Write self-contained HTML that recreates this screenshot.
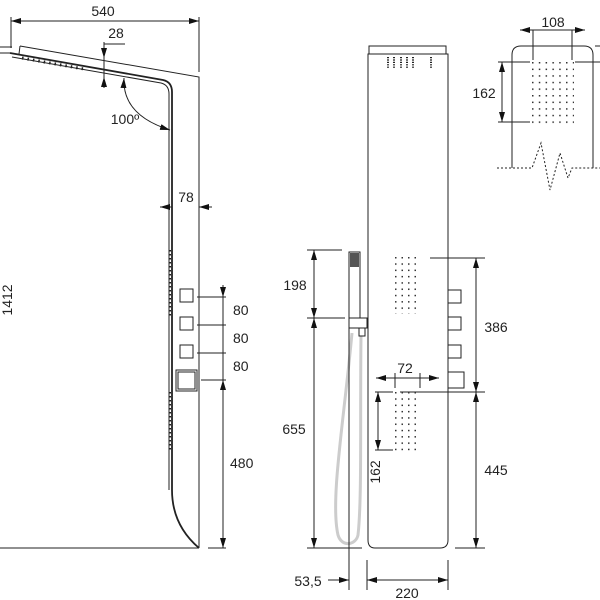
<!DOCTYPE html>
<html><head><meta charset="utf-8"><style>
html,body{margin:0;padding:0;background:#fff}
svg{display:block}
text{font-family:"Liberation Sans Narrow","Liberation Sans",sans-serif;font-size:14px;fill:#222}
</style></head><body>
<svg width="600" height="600" viewBox="0 0 600 600" xmlns="http://www.w3.org/2000/svg">
<defs>
<marker id="a" viewBox="0 0 10 6" refX="10" refY="3" markerWidth="10" markerHeight="6" orient="auto-start-reverse" markerUnits="userSpaceOnUse"><path d="M0,0L10,3L0,6z" fill="#111"/></marker>
<pattern id="dg" x="395" y="257" width="6.5" height="6.3" patternUnits="userSpaceOnUse"><rect x="0" y="0" width="1.5" height="1.5" fill="#333"/></pattern>
<pattern id="dg2" x="395" y="392" width="6.5" height="6.3" patternUnits="userSpaceOnUse"><rect x="0" y="0" width="1.5" height="1.5" fill="#333"/></pattern>
<pattern id="dg3" x="532" y="62" width="6.8" height="6.6" patternUnits="userSpaceOnUse"><rect x="0" y="0" width="1.5" height="1.5" fill="#333"/></pattern>
</defs>
<g stroke="#222" stroke-width="1" fill="none">
<!-- LEFT VIEW -->
<line x1="11" y1="17" x2="11" y2="48"/>
<line x1="199" y1="17" x2="199" y2="72"/>
<line x1="11" y1="21" x2="199" y2="21" marker-start="url(#a)" marker-end="url(#a)"/>
<line x1="0" y1="47" x2="12" y2="47"/><line x1="0" y1="53" x2="10" y2="53"/>
<path d="M20,46 L199,77 L199,548"/>
<path d="M20,46 L19,54"/>
<path d="M10,53 L163,80 Q172,82 172,92 L172,490 Q172,525 199,548" stroke-width="1.8"/>
<path d="M12,57 L161,83 Q169,85 169,94 L169,490"/>
<line x1="22" y1="58" x2="84" y2="69" stroke-dasharray="1.5 4" stroke-width="3"/>
<line x1="104" y1="42" x2="104" y2="87" /><line x1="104" y1="44" x2="104" y2="58" marker-end="url(#a)"/><line x1="104" y1="88" x2="104" y2="77" marker-end="url(#a)"/>
<line x1="104" y1="44" x2="125" y2="44"/>
<path d="M124,78 Q122,115 170,130" marker-start="url(#a)" marker-end="url(#a)"/>
<line x1="160" y1="207" x2="172" y2="207" marker-start="url(#a)"/>
<line x1="199" y1="207" x2="212" y2="207" marker-start="url(#a)"/>
<line x1="170" y1="250" x2="170" y2="316" stroke-dasharray="1.5 2.5" stroke-width="2"/>
<line x1="170" y1="392" x2="170" y2="450" stroke-dasharray="1.5 2.5" stroke-width="2"/>
<rect x="180" y="289" width="13" height="13"/><rect x="180" y="317" width="13" height="13"/><rect x="180" y="345" width="13" height="13"/>
<rect x="176" y="370" width="21" height="21"/><rect x="178" y="372" width="17" height="17"/>
<line x1="197" y1="297" x2="226" y2="297"/><line x1="197" y1="325" x2="226" y2="325"/><line x1="197" y1="353" x2="226" y2="353"/><line x1="201" y1="380" x2="226" y2="380"/>
<line x1="208" y1="548" x2="226" y2="548"/>
<line x1="0" y1="548" x2="199" y2="548"/>
<line x1="223" y1="285" x2="223" y2="297" marker-end="url(#a)"/>
<line x1="223" y1="297" x2="223" y2="380"/>
<line x1="223" y1="380" x2="223" y2="548" marker-start="url(#a)" marker-end="url(#a)"/>
<!-- MIDDLE VIEW -->
<rect x="369" y="46" width="77" height="8"/>
<path d="M368,54 L448,54 L448,540 Q448,548 440,548 L375,548 Q368,548 368,540 Z"/>
<g stroke-width="2" stroke-dasharray="1.2 1.2"><line x1="388" y1="57" x2="388" y2="68"/><line x1="394" y1="57" x2="394" y2="68"/><line x1="401" y1="57" x2="401" y2="68"/><line x1="407" y1="57" x2="407" y2="68"/><line x1="413" y1="57" x2="413" y2="68"/><line x1="431" y1="57" x2="431" y2="68"/></g>
<rect x="448" y="290" width="13" height="13"/><rect x="448" y="317" width="13" height="13"/><rect x="448" y="345" width="13" height="13"/><rect x="448" y="372" width="16" height="16"/>
<path d="M352,333 C344,420 330,500 338,535 C342,548 356,545 358,535 C362,500 360,420 361,336" stroke="#ccc" stroke-width="3"/>
<rect x="349" y="252" width="11" height="66"/>
<rect x="350" y="253" width="9" height="14" fill="#555" stroke="none"/>
<rect x="349" y="318" width="18" height="10"/><rect x="359" y="328" width="6" height="8"/>
<line x1="307" y1="250" x2="342" y2="250"/><line x1="307" y1="318" x2="345" y2="318"/><line x1="307" y1="548" x2="362" y2="548"/>
<line x1="314" y1="250" x2="314" y2="318" marker-start="url(#a)" marker-end="url(#a)"/>
<line x1="314" y1="318" x2="314" y2="548" marker-start="url(#a)" marker-end="url(#a)"/>
<line x1="430" y1="258" x2="485" y2="258"/><line x1="400" y1="392" x2="485" y2="392"/><line x1="455" y1="548" x2="485" y2="548"/>
<line x1="476" y1="258" x2="476" y2="392" marker-start="url(#a)" marker-end="url(#a)"/>
<line x1="476" y1="392" x2="476" y2="548" marker-start="url(#a)" marker-end="url(#a)"/>
<line x1="395" y1="373" x2="395" y2="388"/><line x1="420" y1="373" x2="420" y2="388"/>
<line x1="376" y1="378" x2="395" y2="378" marker-start="url(#a)"/><line x1="395" y1="378" x2="420" y2="378"/><line x1="420" y1="378" x2="439" y2="378" marker-end="url(#a)"/>
<line x1="375" y1="392" x2="393" y2="392"/><line x1="375" y1="450" x2="393" y2="450"/>
<line x1="378" y1="392" x2="378" y2="450" marker-start="url(#a)" marker-end="url(#a)"/>
<line x1="349" y1="318" x2="349" y2="590"/><line x1="367" y1="560" x2="367" y2="590"/><line x1="448" y1="560" x2="448" y2="590"/>
<line x1="328" y1="580" x2="349" y2="580" marker-end="url(#a)"/>
<line x1="367" y1="580" x2="448" y2="580" marker-start="url(#a)" marker-end="url(#a)"/>
<!-- RIGHT DETAIL -->
<path d="M512,168 L512,55 Q512,46 521,46 L584,46 Q593,46 593,55 L593,168"/>
<line x1="595" y1="46" x2="600" y2="46"/>
<path d="M497,168 L532,168 L541,143 L550,190 L560,153 L568,178 L572,168 L600,168" stroke-dasharray="2 2"/>
<line x1="533" y1="30" x2="533" y2="60"/><line x1="572" y1="30" x2="572" y2="60"/>
<line x1="520" y1="30" x2="533" y2="30" marker-start="url(#a)"/><line x1="533" y1="30" x2="572" y2="30"/><line x1="572" y1="30" x2="585" y2="30" marker-end="url(#a)"/>
<line x1="498" y1="62" x2="530" y2="62"/><line x1="575" y1="62" x2="600" y2="62"/><line x1="498" y1="122" x2="530" y2="122"/>
<line x1="502" y1="62" x2="502" y2="122" marker-start="url(#a)" marker-end="url(#a)"/>
</g>
<rect x="395" y="257" width="26" height="57" fill="url(#dg)"/>
<rect x="395" y="392" width="26" height="59" fill="url(#dg2)"/>
<rect x="532" y="62" width="42" height="62" fill="url(#dg3)"/>
<!-- TEXT -->
<text x="103" y="16" text-anchor="middle">540</text>
<text x="116" y="38" text-anchor="middle">28</text>
<text x="125" y="124" text-anchor="middle">100º</text>
<text x="186" y="202" text-anchor="middle">78</text>
<text x="233" y="315">80</text><text x="233" y="343">80</text><text x="233" y="371">80</text>
<text x="230" y="468">480</text>
<text transform="translate(12,300) rotate(-90)" text-anchor="middle">1412</text>
<text x="295" y="290" text-anchor="middle">198</text>
<text x="294" y="434" text-anchor="middle">655</text>
<text x="496" y="332" text-anchor="middle">386</text>
<text x="496" y="475" text-anchor="middle">445</text>
<text x="405" y="373" text-anchor="middle">72</text>
<text transform="translate(380,472) rotate(-90)" text-anchor="middle">162</text>
<text x="308" y="586" text-anchor="middle">53,5</text>
<text x="407" y="598" text-anchor="middle">220</text>
<text x="553" y="27" text-anchor="middle">108</text>
<text x="484" y="98" text-anchor="middle">162</text>
</svg>
</body></html>
